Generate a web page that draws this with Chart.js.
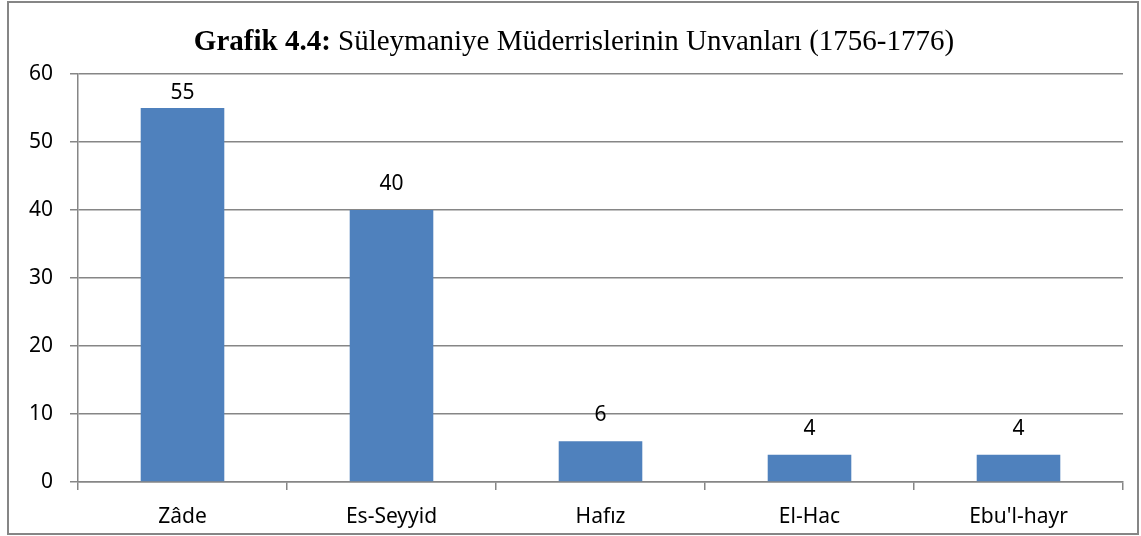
<!DOCTYPE html>
<html>
<head>
<meta charset="utf-8">
<script src="https://cdn.jsdelivr.net/npm/chart.js@4"></script>
<style>
  body { margin: 0; background: #fff; }
  #wrap { width: 1141px; height: 536px; }
</style>
</head>
<body>
<div id="wrap"><canvas id="graf"></canvas></div>
<script>
// veriler
const unvanlar = ['Zâde', 'Es-Seyyid', 'Hafız', 'El-Hac', "Ebu'l-hayr"]
const sayilar = [55, 40, 6, 4, 4]
const baslikKalin = 'Grafik 4.4:'
const baslikNormal = ' Süleymaniye Müderrislerinin Unvanları (1756-1776)'

const gri = '#868686'
const etiketFont = '"Noto Sans", sans-serif'

// cerceve + baslik + bar ustu etiketler
const cizimler = {
    id: 'cizimler',
    beforeDraw(chart) {
        const c = chart.ctx
        c.save()
        c.fillStyle = '#fff'
        c.fillRect(0, 0, chart.width, chart.height)
        c.strokeStyle = gri
        c.lineWidth = 2
        c.strokeRect(8, 2, 1130, 532)
        c.restore()
    },
    afterDraw(chart) {
        const c = chart.ctx
        c.save()
        c.fillStyle = '#000'
        c.textBaseline = 'alphabetic'
        c.font = 'bold 29px "Liberation Serif", serif'
        let w1 = c.measureText(baslikKalin).width
        c.font = '29px "Liberation Serif", serif'
        let w2 = c.measureText(baslikNormal).width
        let x0 = 574 - (w1 + w2) / 2
        c.font = 'bold 29px "Liberation Serif", serif'
        c.textAlign = 'left'
        c.fillText(baslikKalin, x0, 50)
        c.font = '29px "Liberation Serif", serif'
        c.fillText(baslikNormal, x0 + w1, 50)

        // degerler
        c.font = '21px ' + etiketFont
        c.textAlign = 'center'
        c.textBaseline = 'middle'
        let meta = chart.getDatasetMeta(0)
        meta.data.forEach((bar, i) => {
            let y = Math.max(bar.y - 26, chart.chartArea.top + 19)
            c.fillText(String(sayilar[i]), bar.x, y)
        })
        c.restore()
    }
}

let ctx = document.getElementById('graf').getContext('2d')

new Chart(ctx, {
    type: 'bar',
    data: {
        labels: unvanlar,
        datasets: [{
            data: sayilar,
            backgroundColor: '#4F81BD',
            barPercentage: 0.8,
            categoryPercentage: 0.5
        }]
    },
    options: {
        responsive: true,
        maintainAspectRatio: false,
        animation: false,
        layout: { padding: { top: 74, right: 18, left: 0, bottom: 0 } },
        plugins: {
            legend: { display: false },
            title: { display: false },
            tooltip: { enabled: false }
        },
        scales: {
            x: {
                grid: {
                    offset: true,
                    drawOnChartArea: false,
                    color: gri,
                    tickLength: 8,
                    lineWidth: 1.5
                },
                border: { color: gri, width: 1.5 },
                ticks: {
                    color: '#000',
                    padding: 14,
                    font: { family: etiketFont, size: 21 }
                },
                afterFit(axis) { axis.height = 54 }
            },
            y: {
                min: 0,
                max: 60,
                grid: {
                    color: gri,
                    tickLength: 8,
                    lineWidth: 1.5
                },
                border: { color: gri, width: 1.5 },
                ticks: {
                    stepSize: 10,
                    color: '#000',
                    padding: 17,
                    font: { family: etiketFont, size: 21 }
                },
                afterFit(axis) { axis.width = 78 }
            }
        }
    },
    plugins: [cizimler]
})
</script>
</body>
</html>
